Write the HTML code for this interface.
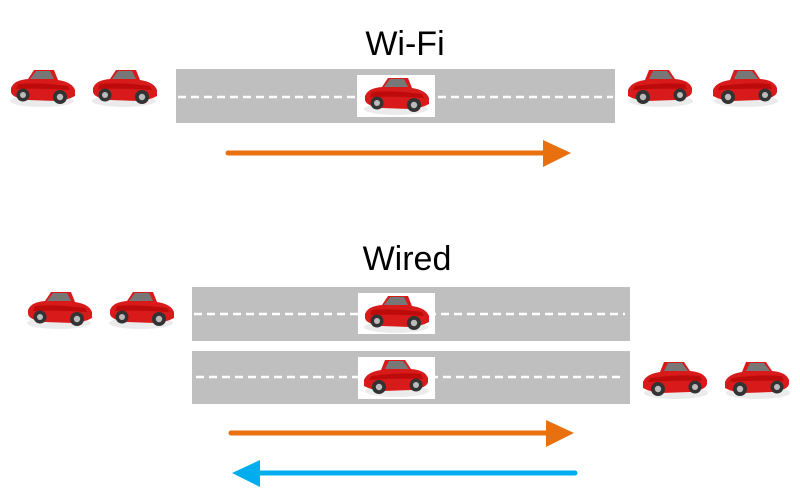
<!DOCTYPE html>
<html><head><style>
html,body{margin:0;padding:0;background:#fff;width:800px;height:490px;overflow:hidden}
</style></head><body>
<svg width="800" height="490" viewBox="0 0 800 490" xmlns="http://www.w3.org/2000/svg">
<defs>
<g id="car">
  <ellipse cx="34" cy="31" rx="32" ry="6" fill="#ddd" opacity="0.6"/>
  <path d="M3 18 Q6 10 20 9 L26 0 L46 0 L50 10 Q64 12 67 20 L67 26 Q60 30 48 31 L20 30 Q4 28 3 22 Z" fill="#d91a1a"/>
  <path d="M22 9 L28 1 L42 1 L46 9 Z" fill="#777"/>
  <path d="M10 14 Q30 12 60 16 L62 20 Q34 18 8 19 Z" fill="#a00" opacity="0.6"/>
  <circle cx="15" cy="25" r="6.5" fill="#333"/><circle cx="15" cy="25" r="3" fill="#bbb"/>
  <circle cx="52" cy="27" r="7" fill="#333"/><circle cx="52" cy="27" r="3.2" fill="#bbb"/>
</g>
</defs>
<text x="405" y="55" font-family="Liberation Sans, sans-serif" font-size="34" text-anchor="middle" fill="#000">Wi-Fi</text>
<text x="407" y="270" font-family="Liberation Sans, sans-serif" font-size="34" text-anchor="middle" fill="#000">Wired</text>

<rect x="176" y="69" width="439" height="54" fill="#bfbfbf"/>
<line x1="178" y1="97" x2="613" y2="97" stroke="#fff" stroke-width="2.5" stroke-dasharray="8,5"/>
<rect x="357" y="75" width="78" height="42" fill="#fff"/>

<rect x="192" y="287" width="438" height="54" fill="#bfbfbf"/>
<line x1="194" y1="314" x2="625" y2="314" stroke="#fff" stroke-width="2.5" stroke-dasharray="8,5"/>
<rect x="358" y="293" width="77" height="41" fill="#fff"/>

<rect x="192" y="351" width="438" height="53" fill="#bfbfbf"/>
<line x1="196" y1="377" x2="625" y2="377" stroke="#fff" stroke-width="2.5" stroke-dasharray="8,5"/>
<rect x="358" y="357" width="77" height="42" fill="#fff"/>

<use href="#car" transform="translate(8,70)"/>
<use href="#car" transform="translate(90,70)"/>
<use href="#car" transform="translate(362,78)"/>
<use href="#car" transform="translate(695,70) scale(-1,1)"/>
<use href="#car" transform="translate(780,70) scale(-1,1)"/>

<use href="#car" transform="translate(25,292)"/>
<use href="#car" transform="translate(107,292)"/>
<use href="#car" transform="translate(362,296)"/>
<use href="#car" transform="translate(431,360) scale(-1,1)"/>
<use href="#car" transform="translate(710,362) scale(-1,1)"/>
<use href="#car" transform="translate(792,362) scale(-1,1)"/>

<line x1="228" y1="153" x2="545" y2="153" stroke="#e8700e" stroke-width="5" stroke-linecap="round"/>
<polygon points="543,140 571,153 543,167" fill="#e8700e"/>
<line x1="231" y1="433" x2="548" y2="433" stroke="#e8700e" stroke-width="5" stroke-linecap="round"/>
<polygon points="546,420 574,433 546,447" fill="#e8700e"/>
<line x1="258" y1="473" x2="575" y2="473" stroke="#00aeef" stroke-width="5" stroke-linecap="round"/>
<polygon points="260,460 232,473 260,487" fill="#00aeef"/>
</svg>
</body></html>
